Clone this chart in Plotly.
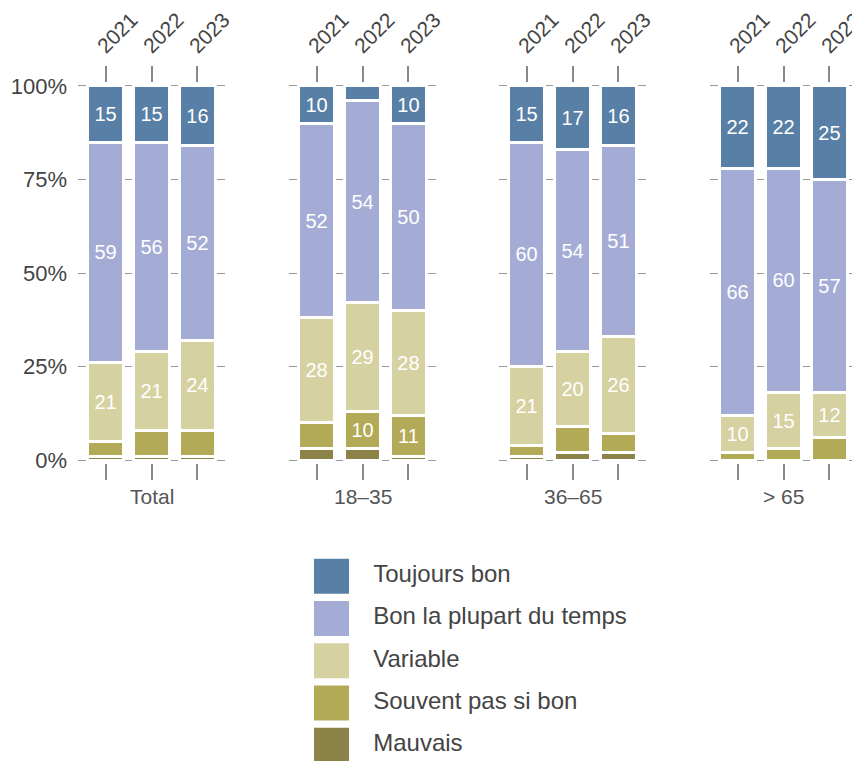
import plotly.graph_objects as go

years = ["2021", "2022", "2023"]
groups = ["Total", "18–35", "36–65", "> 65"]
series = ["Toujours bon", "Bon la plupart du temps", "Variable", "Souvent pas si bon", "Mauvais"]
colors = ["#587fa5", "#a4acd6", "#d6d1a0", "#b3aa58", "#8b8348"]

# values per group, per year (2021, 2022, 2023)
toujours = {"Total": [15, 15, 16], "18–35": [10, 4, 10], "36–65": [15, 17, 16], "> 65": [22, 22, 25]}
bon = {"Total": [59, 56, 52], "18–35": [52, 54, 50], "36–65": [60, 54, 51], "> 65": [66, 60, 57]}
variable = {"Total": [21, 21, 24], "18–35": [28, 29, 28], "36–65": [21, 20, 26], "> 65": [10, 15, 12]}
souvent = {"Total": [4, 7, 7], "18–35": [7, 10, 11], "36–65": [3, 7, 5], "> 65": [2, 3, 6]}
mauvais = {"Total": [1, 1, 1], "18–35": [3, 3, 1], "36–65": [1, 2, 2], "> 65": [0, 0, 0]}

ytick_vals = [0, 25, 50, 75, 100]
ytick_text = ["0%", "25%", "50%", "75%", "100%"]

FONT = "Liberation Sans, Arial, sans-serif"
W, H = 860, 761
OFF = 8  # page body margin

stack_order = [(series[4], mauvais, colors[4]), (series[3], souvent, colors[3]),
               (series[2], variable, colors[2]), (series[1], bon, colors[1]),
               (series[0], toujours, colors[0])]

fig = go.Figure()

panel_px = [(78, 225), (289, 436), (499, 646), (710, 857)]
y_dom = [(H - (463 - OFF)) / H, (H - (83 - OFF)) / H]

for gi, g in enumerate(groups):
    ax = "" if gi == 0 else str(gi + 1)
    for name, data, col in stack_order:
        vals = data[g]
        fig.add_trace(go.Bar(
            x=years, y=vals, name=name, xaxis="x" + ax, yaxis="y" + ax,
            marker=dict(color=col, line=dict(color="white", width=3)),
            width=0.78,
            text=[str(v) if v >= 10 else "" for v in vals],
            textposition="inside", insidetextanchor="middle", textangle=0,
            textfont=dict(color="white", size=20, family=FONT),
            showlegend=False, hoverinfo="skip",
        ))
    x0, x1 = panel_px[gi]
    fig.layout["xaxis" + ax] = dict(
        domain=[(x0 - OFF) / W, (x1 - OFF) / W], anchor="y" + ax, type="category",
        range=[-0.598, 2.598], side="top", ticks="outside", ticklen=16,
        tickwidth=1.5, tickcolor="#888", mirror="ticks", showline=False,
        showgrid=False, zeroline=False, tickangle=-45, automargin=False,
        ticklabelshift=-7,
        tickfont=dict(size=21, color="#444", family=FONT),
    )
    fig.layout["yaxis" + ax] = dict(
        domain=list(y_dom), anchor="x" + ax, range=[-0.8, 100.8],
        tickvals=ytick_vals, ticktext=ytick_text, showticklabels=(gi == 0),
        ticks="", showgrid=True, gridcolor="#999", gridwidth=1.2,
        zeroline=False, showline=False, ticklabelstandoff=10, automargin=False,
        tickfont=dict(size=22, color="#444", family=FONT),
    )
    fig.add_annotation(
        text=g, xref="x" + ax + " domain", x=0.5, yref="paper",
        y=(H - (497 - OFF)) / H, showarrow=False, xanchor="center", yanchor="middle",
        font=dict(size=21, color="#555", family=FONT),
    )

# legend drawn as its own small subplot
fig.add_trace(go.Scatter(
    x=[0] * len(series), y=series, mode="markers", xaxis="x5", yaxis="y5",
    marker=dict(symbol="square", size=35, color=colors, line=dict(width=0)),
    showlegend=False, hoverinfo="skip",
))
fig.add_trace(go.Scatter(
    x=[0.568] * len(series), y=series, mode="text", text=series,
    textposition="middle right", xaxis="x5", yaxis="y5",
    textfont=dict(size=24, color="#444", family=FONT),
    showlegend=False, hoverinfo="skip",
))
fig.layout["xaxis5"] = dict(domain=[(258 - OFF) / W, 1.0], anchor="y5",
                            range=[-1, (W - 258 + OFF) / 73.5 - 1],
                            visible=False, fixedrange=True)
fig.layout["yaxis5"] = dict(domain=[0, (H - (555 - OFF)) / H], anchor="x5", type="category",
                            categoryarray=series,
                            range=[-0.5 + (H - 555 + OFF) / 42.3, -0.5],
                            visible=False, fixedrange=True)

fig.update_layout(
    barmode="stack", width=W, height=H,
    margin=dict(l=0, r=0, t=0, b=0),
    paper_bgcolor="white", plot_bgcolor="white",
    font=dict(family=FONT, color="#444"),
    uniformtext=dict(minsize=12, mode="show"),
)

fig.write_html("out.html")
